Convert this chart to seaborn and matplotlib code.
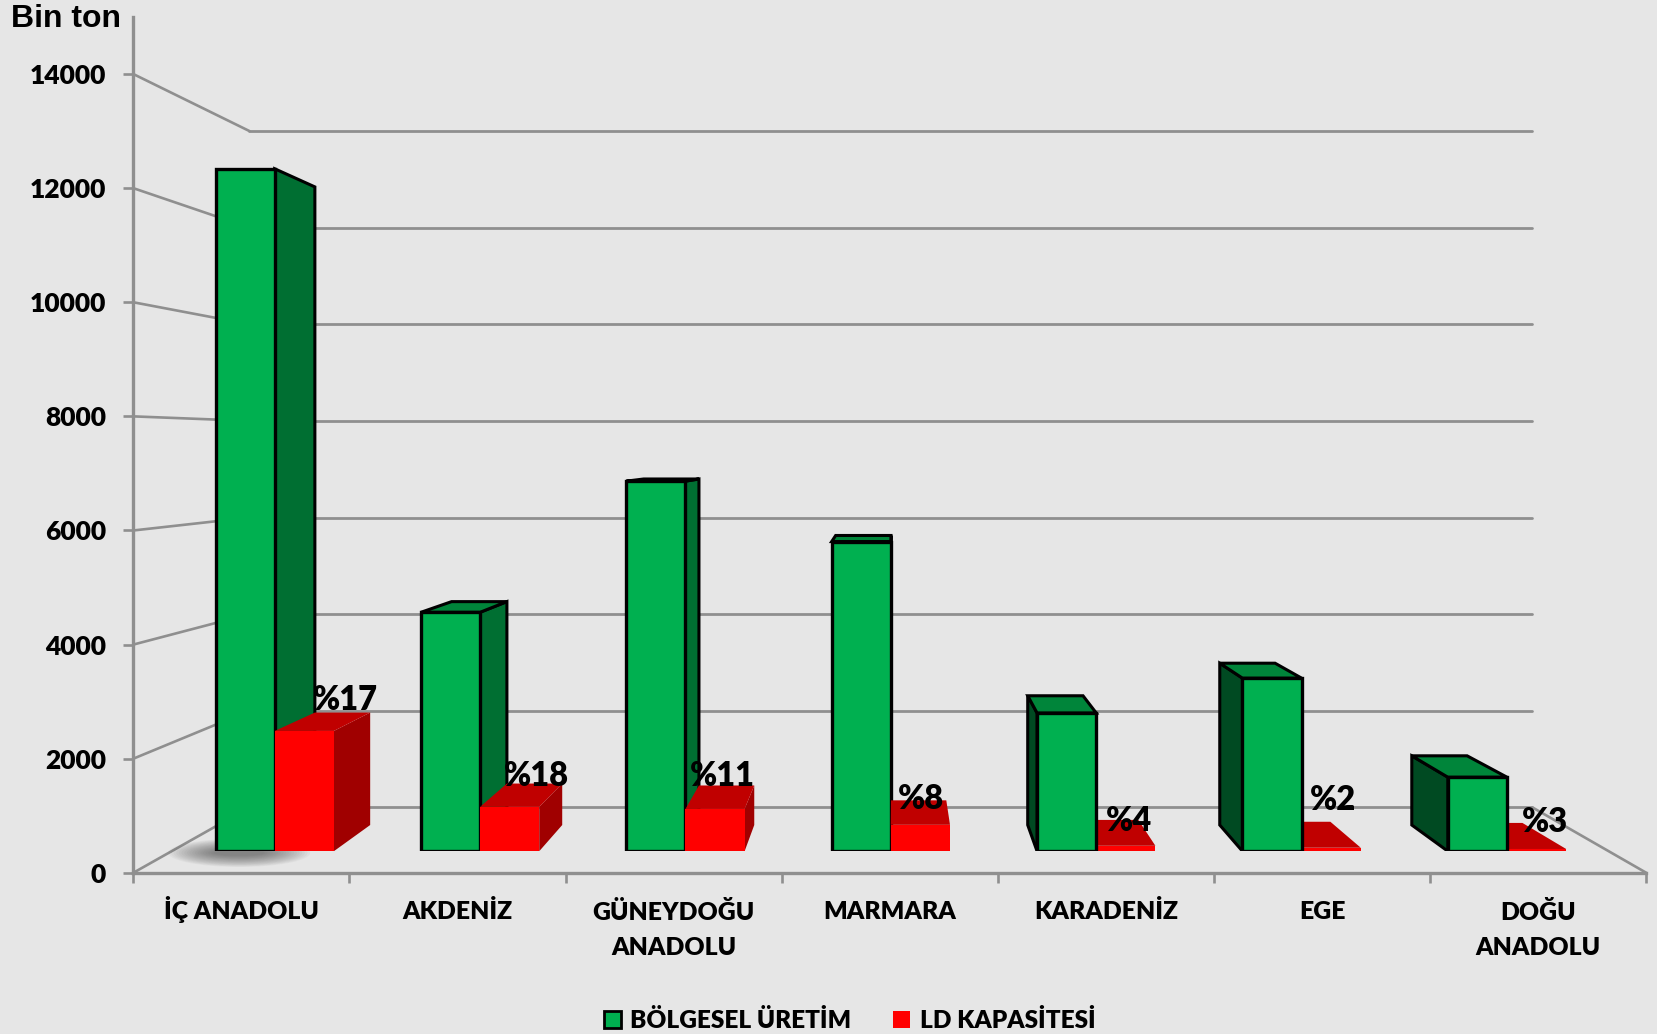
import matplotlib
matplotlib.use('Agg')
from matplotlib import pyplot as plt
from matplotlib.patches import ConnectionPatch, Ellipse, Polygon
import pandas as pd
import seaborn as sns

categories = ['İÇ ANADOLU', 'AKDENİZ', 'GÜNEYDOĞU\nANADOLU', 'MARMARA',
              'KARADENİZ', 'EGE', 'DOĞU\nANADOLU']
uretim = [12540, 4390, 6800, 5690, 2540, 3180, 1360]
kapasite = [2210, 815, 777, 485, 100, 64, 41]
yuzdeler = ['%17', '%18', '%11', '%8', '%4', '%2', '%3']
y_ticks = [0, 2000, 4000, 6000, 8000, 10000, 12000, 14000]
series_names = ['BÖLGESEL ÜRETİM', 'LD KAPASİTESİ']

# label nudges from the red bar centre / top, in reference pixels
label_dx = [39, 25, 7, 1, 3, 2, 8]
label_dy = [29, 29, 31, 24, 23, 45, 26]

BG = '#e6e6e6'
GRID = '#8f8f8f'
W, H = 1657, 1034
K = W / 1568  # picture coords were read at 1568 wide
VP = (845 * K, 424 * K)  # vanishing point of the fake 3d
DEPTH = 0.065
HEAVY = 'heavy'

sns.set_style('white')
plt.rcParams['font.family'] = ['Lato', 'DejaVu Sans']
plt.rcParams['font.weight'] = HEAVY
plt.rcParams['text.color'] = 'black'

fig = plt.figure(figsize=(W / 100, H / 100), dpi=100, facecolor=BG)


def plane(left, right, bottom, top, z):
    a = fig.add_axes([left * K / W, 1 - bottom * K / H,
                      (right - left) * K / W, (bottom - top) * K / H], zorder=z)
    a.patch.set_visible(False)
    return a


# back wall, front axis frame, plane of the bars
ax_back = plane(236, 1450, 764, 124, 0)
ax_front = plane(126, 1558, 826, 16, 1)
ax_bars = plane(162.75, 1523.25, 805.5, 84.5, 2)

ax_back.set_xlim(0, 1)
ax_back.set_ylim(0, 14000)
ax_back.set_yticks(y_ticks)
ax_back.yaxis.grid(True, color=GRID, lw=2.0)
for line in ax_back.get_ygridlines():
    line.set_clip_on(False)
ax_back.tick_params(left=False, labelleft=False, bottom=False, labelbottom=False)
sns.despine(ax=ax_back, left=True, bottom=True)

ax_front.set_xlim(0, len(categories))
ax_front.set_ylim(0, 15000)
ax_front.set_yticks(y_ticks)
ax_front.set_yticklabels(y_ticks, fontsize=19, fontweight=HEAVY, color='black',
                         va='center_baseline')
ax_front.set_xticks(range(len(categories) + 1))
ax_front.set_xticklabels([])
ax_front.set_xticks([i + 0.5 for i in range(len(categories))], minor=True)
ax_front.set_xticklabels(categories, minor=True, fontsize=17.8, fontweight=HEAVY,
                         linespacing=1.7, color='black')
ax_front.tick_params(which='major', color=GRID, width=1.9, length=7, left=True,
                     bottom=True, pad=12.5)
ax_front.tick_params(axis='x', which='minor', length=0, pad=33, bottom=False)
# baseline of a two line label is its last line, so those sit one line lower
for tick, cat in zip(ax_front.xaxis.get_minor_ticks(), categories):
    tick.label1.set_va('baseline')
    if '\n' in cat:
        tick.set_pad(33 + 25.9)
        tick.label1.set_va('baseline')
sns.despine(ax=ax_front)
for side in ['left', 'bottom']:
    ax_front.spines[side].set_color(GRID)
    ax_front.spines[side].set_linewidth(2.4)

# lines running from the front axis back to the wall
for t in y_ticks:
    ax_front.add_artist(ConnectionPatch((0, t), (0, t), ax_front.transData, ax_back.transData,
                                        color=GRID, lw=1.9))
ax_front.add_artist(ConnectionPatch((len(categories), 0), (1, 0), ax_front.transData,
                                    ax_back.transData, color=GRID, lw=1.9))

fig.text(10 * K / W, 1 - 18 * K / H, 'Bin ton', fontsize=23, fontweight='bold',
         family='Liberation Sans', ha='left', va='center')

df = pd.DataFrame({
    'bolge': categories * 2,
    'deger': uretim + kapasite,
    'seri': [series_names[0]] * len(categories) + [series_names[1]] * len(categories),
})
sns.barplot(data=df, x='bolge', y='deger', hue='seri', ax=ax_bars, width=0.576, gap=0,
            palette=['#00b050', '#ff0000'], saturation=1, linewidth=0, errorbar=None)
ax_bars.set_xlim(-0.5, len(categories) - 0.5)
ax_bars.set_ylim(0, 14000)
ax_bars.axis('off')


def faces(bar, right_col, left_col, top_col, edge, lw, z):
    # depth faces, pulled towards the vanishing point from the bar's own corners
    x0, x1 = bar.get_x(), bar.get_x() + bar.get_width()
    y0, y1 = 0, bar.get_height()
    to_px = ax_bars.transData.transform
    to_data = ax_bars.transData.inverted().transform

    def back(p):
        px, py = to_px(p)
        return to_data((px + DEPTH * (VP[0] - px), py + DEPTH * ((H - VP[1]) - py)))

    right_side = to_px((x1, y0))[0] < VP[0]
    sx = x1 if right_side else x0
    col = right_col if right_side else left_col
    polys = [([(sx, y0), (sx, y1), back((sx, y1)), back((sx, y0))], col)]
    # the top only shows on bars that end below the eye line
    if back((x0, y1))[1] > y1:
        polys.append(([(x0, y1), (x1, y1), back((x1, y1)), back((x0, y1))], top_col))
    for pts, c in polys:
        ax_bars.add_patch(Polygon(pts, closed=True, facecolor=c, edgecolor=edge, linewidth=lw,
                                  joinstyle='miter', zorder=z - 0.5))


green_bars, red_bars = ax_bars.containers[0], ax_bars.containers[1]
for i, (g, r) in enumerate(zip(green_bars, red_bars)):
    # left of the vanishing point the red box sits in front of the green one
    left_of_vp = i < 4
    gz, rz = (3, 5) if left_of_vp else (5, 3)
    g.set_zorder(gz)
    g.set_edgecolor('black')
    g.set_linewidth(2.4)
    g.set_joinstyle('miter')
    r.set_zorder(rz)
    faces(g, '#006f32', '#004a22', '#00853a', 'black', 2.2, gz)
    faces(r, '#a00000', '#a00000', '#c00000', 'none', 0, rz)
    ax_bars.annotate(yuzdeler[i], (r.get_x() + r.get_width() / 2, r.get_height()),
                     xytext=(label_dx[i] * K * 0.72, label_dy[i] * K * 0.72),
                     textcoords='offset points', ha='center', va='center', fontsize=23.5,
                     fontweight=HEAVY, color='black', zorder=8, annotation_clip=False)

# soft shadow below the first bar
first = green_bars[0]
for n in range(18):
    ax_bars.add_patch(Ellipse((first.get_x() + first.get_width() * 0.4, -30),
                              first.get_width() * (2.4 - n * 0.09), 520 - n * 24,
                              facecolor='#404040', edgecolor='none', alpha=0.045, zorder=1,
                              clip_on=False))

sns.move_legend(ax_bars, 'center', bbox_to_anchor=(0.5128, 0.0133),
                bbox_transform=fig.transFigure, ncol=2, frameon=False, title=None,
                fontsize=17.6, handlelength=0.7, handleheight=0.7, handletextpad=0.4,
                columnspacing=1.7, borderpad=0)
leg = ax_bars.get_legend()
leg.legend_handles[0].set_edgecolor('black')
leg.legend_handles[0].set_linewidth(2)

plt.savefig('out.png', dpi=100, facecolor=BG)
